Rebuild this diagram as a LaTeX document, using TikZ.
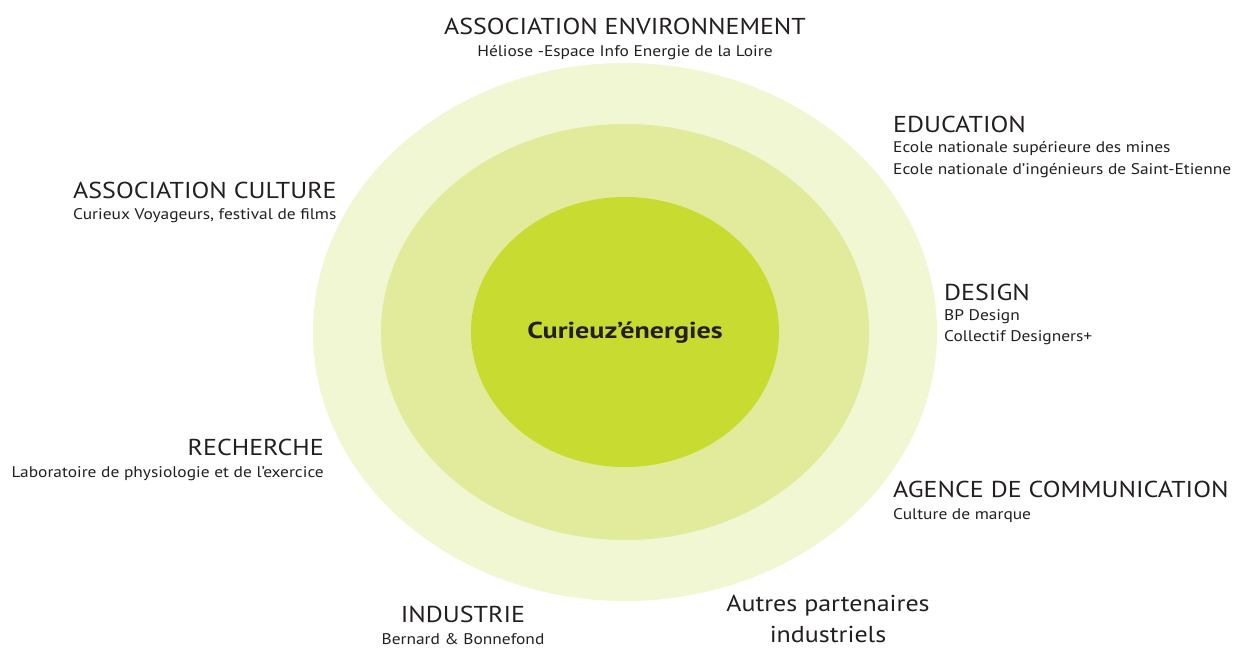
\documentclass[tikz,border=0pt]{standalone}
\usepackage{fontspec}
\setmainfont{PT Sans}[FakeStretch=1.13]
\newfontfamily\centrefont{PT Sans}[FakeStretch=1.22]
\usetikzlibrary{positioning}
\definecolor{ringout}{HTML}{F1F6D3}
\definecolor{ringmid}{HTML}{E1EB9B}
\definecolor{ringin}{HTML}{C7DB30}
\definecolor{inktext}{HTML}{231F20}
\tikzset{
	head/.style = {inner sep=0pt, text=inktext, font=\fontsize{23}{26}\selectfont},
	sub/.style = {inner sep=0pt, text=inktext, font=\fontsize{15.4}{21}\selectfont},
	ring/.style = {draw=none}
}
\begin{document}
\begin{tikzpicture}[x=1pt, y=-1pt]
		\useasboundingbox (0,0) rectangle (1235,648);
		% rings
		\fill [ring, ringout] (625,332) ellipse [x radius=312, y radius=269];
		\fill [ring, ringmid] (625,332) ellipse [x radius=244, y radius=208];
		\fill [ring, ringin] (625,332) ellipse [x radius=154, y radius=135];
		\node (Centre) [inner sep=0pt, text=inktext, font=\centrefont\fontsize{23}{26}\selectfont\bfseries, anchor=base] at (625,338) {Curieuz’énergies};
		% partners
		\node (Environnement) [head, anchor=base] at (625,34) {ASSOCIATION ENVIRONNEMENT};
		\node (EnvironnementSub) [sub, anchor=base] at (625,56) {Héliose -Espace Info Energie de la Loire};
		\node (Education) [head, anchor=base west] at (893,132) {EDUCATION};
		\node (EducationSub) [sub, anchor=base west] at (893,152) {Ecole nationale supérieure des mines};
		\node (EducationSubB) [sub, anchor=base west] at (893,174) {Ecole nationale d’ingénieurs de Saint-Etienne};
		\node (Culture) [head, anchor=base west] at (73,198) {ASSOCIATION CULTURE};
		\node (CultureSub) [sub, anchor=base west] at (73,219) {Curieux Voyageurs, festival de films};
		\node (Design) [head, anchor=base west] at (944,300) {DESIGN};
		\node (DesignSub) [sub, anchor=base west] at (944,320) {BP Design};
		\node (DesignSubB) [sub, anchor=base west] at (944,341) {Collectif Designers+};
		\node (Recherche) [head, anchor=base east] at (324,455) {RECHERCHE};
		\node (RechercheSub) [sub, anchor=base east] at (324,477) {Laboratoire de physiologie et de l’exercice};
		\node (Agence) [head, anchor=base west] at (893,497) {AGENCE DE COMMUNICATION};
		\node (AgenceSub) [sub, anchor=base west] at (893,519) {Culture de marque};
		\node (Industrie) [head, anchor=base] at (463,622) {INDUSTRIE};
		\node (IndustrieSub) [sub, anchor=base] at (463,644) {Bernard \& Bonnefond};
		\node (Autres) [head, anchor=base] at (828,611) {Autres partenaires};
		\node (AutresB) [head, anchor=base] at (828,642) {industriels};
\end{tikzpicture}
\end{document}
